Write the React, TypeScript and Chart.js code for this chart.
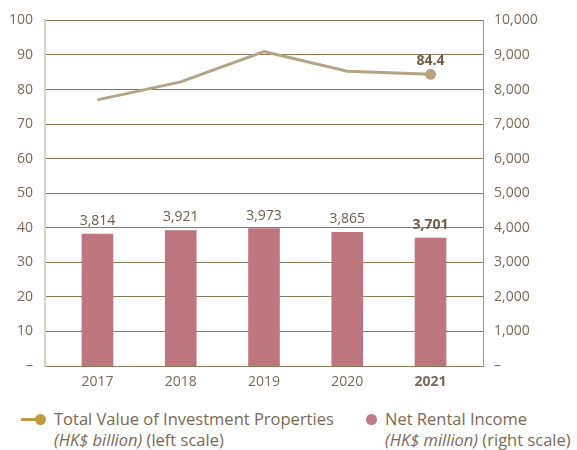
import React, { useEffect, useRef } from "react";
import { Chart, registerables } from "chart.js";

Chart.register(...registerables);

const years = ["2017", "2018", "2019", "2020", "2021"];
const investValue = [77.0, 82.2, 91.0, 85.3, 84.4]; // HK$ billion, left
const rentalIncome = [3814, 3921, 3973, 3865, 3701]; // HK$ million, right
const leftTicks = [0, 10, 20, 30, 40, 50, 60, 70, 80, 90, 100];
const rightTicks = [0, 1000, 2000, 3000, 4000, 5000, 6000, 7000, 8000, 9000, 10000];

const FONT = "'Open Sans', 'DejaVu Sans', sans-serif";
const TEXT = "#7a6954";
const GRID = "#8e775a";
const LINE = "#b7a283";
const BAR = "#bd767d";

const labelPlugin = {
  id: "valueLabels",
  afterDatasetsDraw(chart: any) {
    const ctx = chart.ctx;
    ctx.save();
    ctx.fillStyle = "#6e5c47";
    ctx.textAlign = "center";
    ctx.textBaseline = "middle";
    const barMeta = chart.getDatasetMeta(1);
    barMeta.data.forEach((el: any, i: number) => {
      const last = i === rentalIncome.length - 1;
      ctx.font = `${last ? "bold " : ""}14px ${FONT}`;
      ctx.fillText(rentalIncome[i].toLocaleString("en-US"), el.x, el.y - 13);
    });
    const lineMeta = chart.getDatasetMeta(0);
    const li = investValue.length - 1;
    const p = lineMeta.data[li];
    ctx.font = `bold 14px ${FONT}`;
    ctx.fillText(investValue[li].toFixed(1), p.x, p.y - 13);
    ctx.restore();
  },
};

export default function App() {
  const ref = useRef<HTMLCanvasElement>(null);
  useEffect(() => {
    document.body.style.margin = "0";
    const c = new Chart(ref.current!, {
      type: "bar",
      data: {
        datasets: [
          {
            type: "line",
            label: "Total Value of Investment Properties",
            data: investValue.map((v, i) => ({ x: i, y: v })),
            yAxisID: "yL",
            borderColor: LINE,
            backgroundColor: LINE,
            borderWidth: 3,
            tension: 0,
            pointRadius: investValue.map((_, i) => (i === investValue.length - 1 ? 5.5 : 0)),
            pointBackgroundColor: LINE,
            pointBorderWidth: 0,
            order: 0,
          } as any,
          {
            type: "bar",
            label: "Net Rental Income",
            data: rentalIncome.map((v, i) => ({ x: i, y: v })),
            yAxisID: "yR",
            backgroundColor: BAR,
            barThickness: 31,
            order: 1,
          },
        ],
      },
      options: {
        animation: false,
        responsive: false,
        layout: { padding: { top: 18, left: 0, right: 0, bottom: 0 } },
        plugins: { legend: { display: false }, tooltip: { enabled: false } },
        scales: {
          x: {
            type: "linear",
            offset: false,
            min: -0.63,
            max: 4.63,
            grid: { display: false, drawTicks: false, offset: false },
            border: { display: true, color: GRID, width: 1 },
            afterBuildTicks: (axis: any) => {
              axis.ticks = years.map((_, i) => ({ value: i }));
            },
            afterFit: (axis: any) => {
              axis.height = 34;
            },
            ticks: {
              padding: 8,
              color: TEXT,
              font: (ctx: any) => ({
                family: FONT,
                size: 14,
                weight: ctx.index === years.length - 1 ? "bold" : "normal",
              }),
              callback: (v: any) => years[v],
            },
          },
          yL: {
            type: "linear",
            position: "left",
            min: 0,
            max: 100,
            afterBuildTicks: (axis: any) => {
              axis.ticks = leftTicks.map((v) => ({ value: v }));
            },
            afterFit: (axis: any) => {
              axis.width = 45;
            },
            grid: { color: GRID, lineWidth: 1, drawTicks: false },
            border: { display: true, color: "#d9d1c4", width: 2 },
            ticks: {
              padding: 12,
              color: TEXT,
              font: { family: FONT, size: 14 },
              callback: (v: any) => (v === 0 ? "–" : String(v)),
            },
          },
          yR: {
            type: "linear",
            position: "right",
            min: 0,
            max: 10000,
            afterBuildTicks: (axis: any) => {
              axis.ticks = rightTicks.map((v) => ({ value: v }));
            },
            afterFit: (axis: any) => {
              axis.width = 94;
            },
            grid: { display: false, drawTicks: false },
            border: { display: true, color: "#a99679", width: 1 },
            ticks: {
              padding: 11,
              color: TEXT,
              font: { family: FONT, size: 14 },
              callback: (v: any) => (v === 0 ? "–" : Number(v).toLocaleString("en-US")),
            },
          },
        },
      },
      plugins: [labelPlugin],
    } as any);
    return () => c.destroy();
  }, []);

  const textStyle: React.CSSProperties = {
    position: "absolute",
    fontFamily: FONT,
    fontSize: 16.5,
    lineHeight: "21px",
    color: TEXT,
    whiteSpace: "nowrap",
  };

  return (
    <div style={{ position: "relative", width: 577, height: 450, background: "#fff" }}>
      <canvas ref={ref} width={577} height={400} style={{ position: "absolute", left: 0, top: 0 }} />
      <div style={{ position: "absolute", left: 21, top: 418, width: 20, height: 3, background: "#bf9a3e" }} />
      <div
        style={{
          position: "absolute",
          left: 35,
          top: 414,
          width: 11,
          height: 11,
          borderRadius: "50%",
          background: "#bf9a3e",
        }}
      />
      <div style={{ ...textStyle, left: 54, top: 408 }}>
        Total Value of Investment Properties
        <br />
        <i>(HK$ billion)</i> (left scale)
      </div>
      <div
        style={{
          position: "absolute",
          left: 366,
          top: 414,
          width: 11,
          height: 11,
          borderRadius: "50%",
          background: "#c27a83",
        }}
      />
      <div style={{ ...textStyle, left: 385, top: 408 }}>
        Net Rental Income
        <br />
        <i>(HK$ million)</i> (right scale)
      </div>
    </div>
  );
}
